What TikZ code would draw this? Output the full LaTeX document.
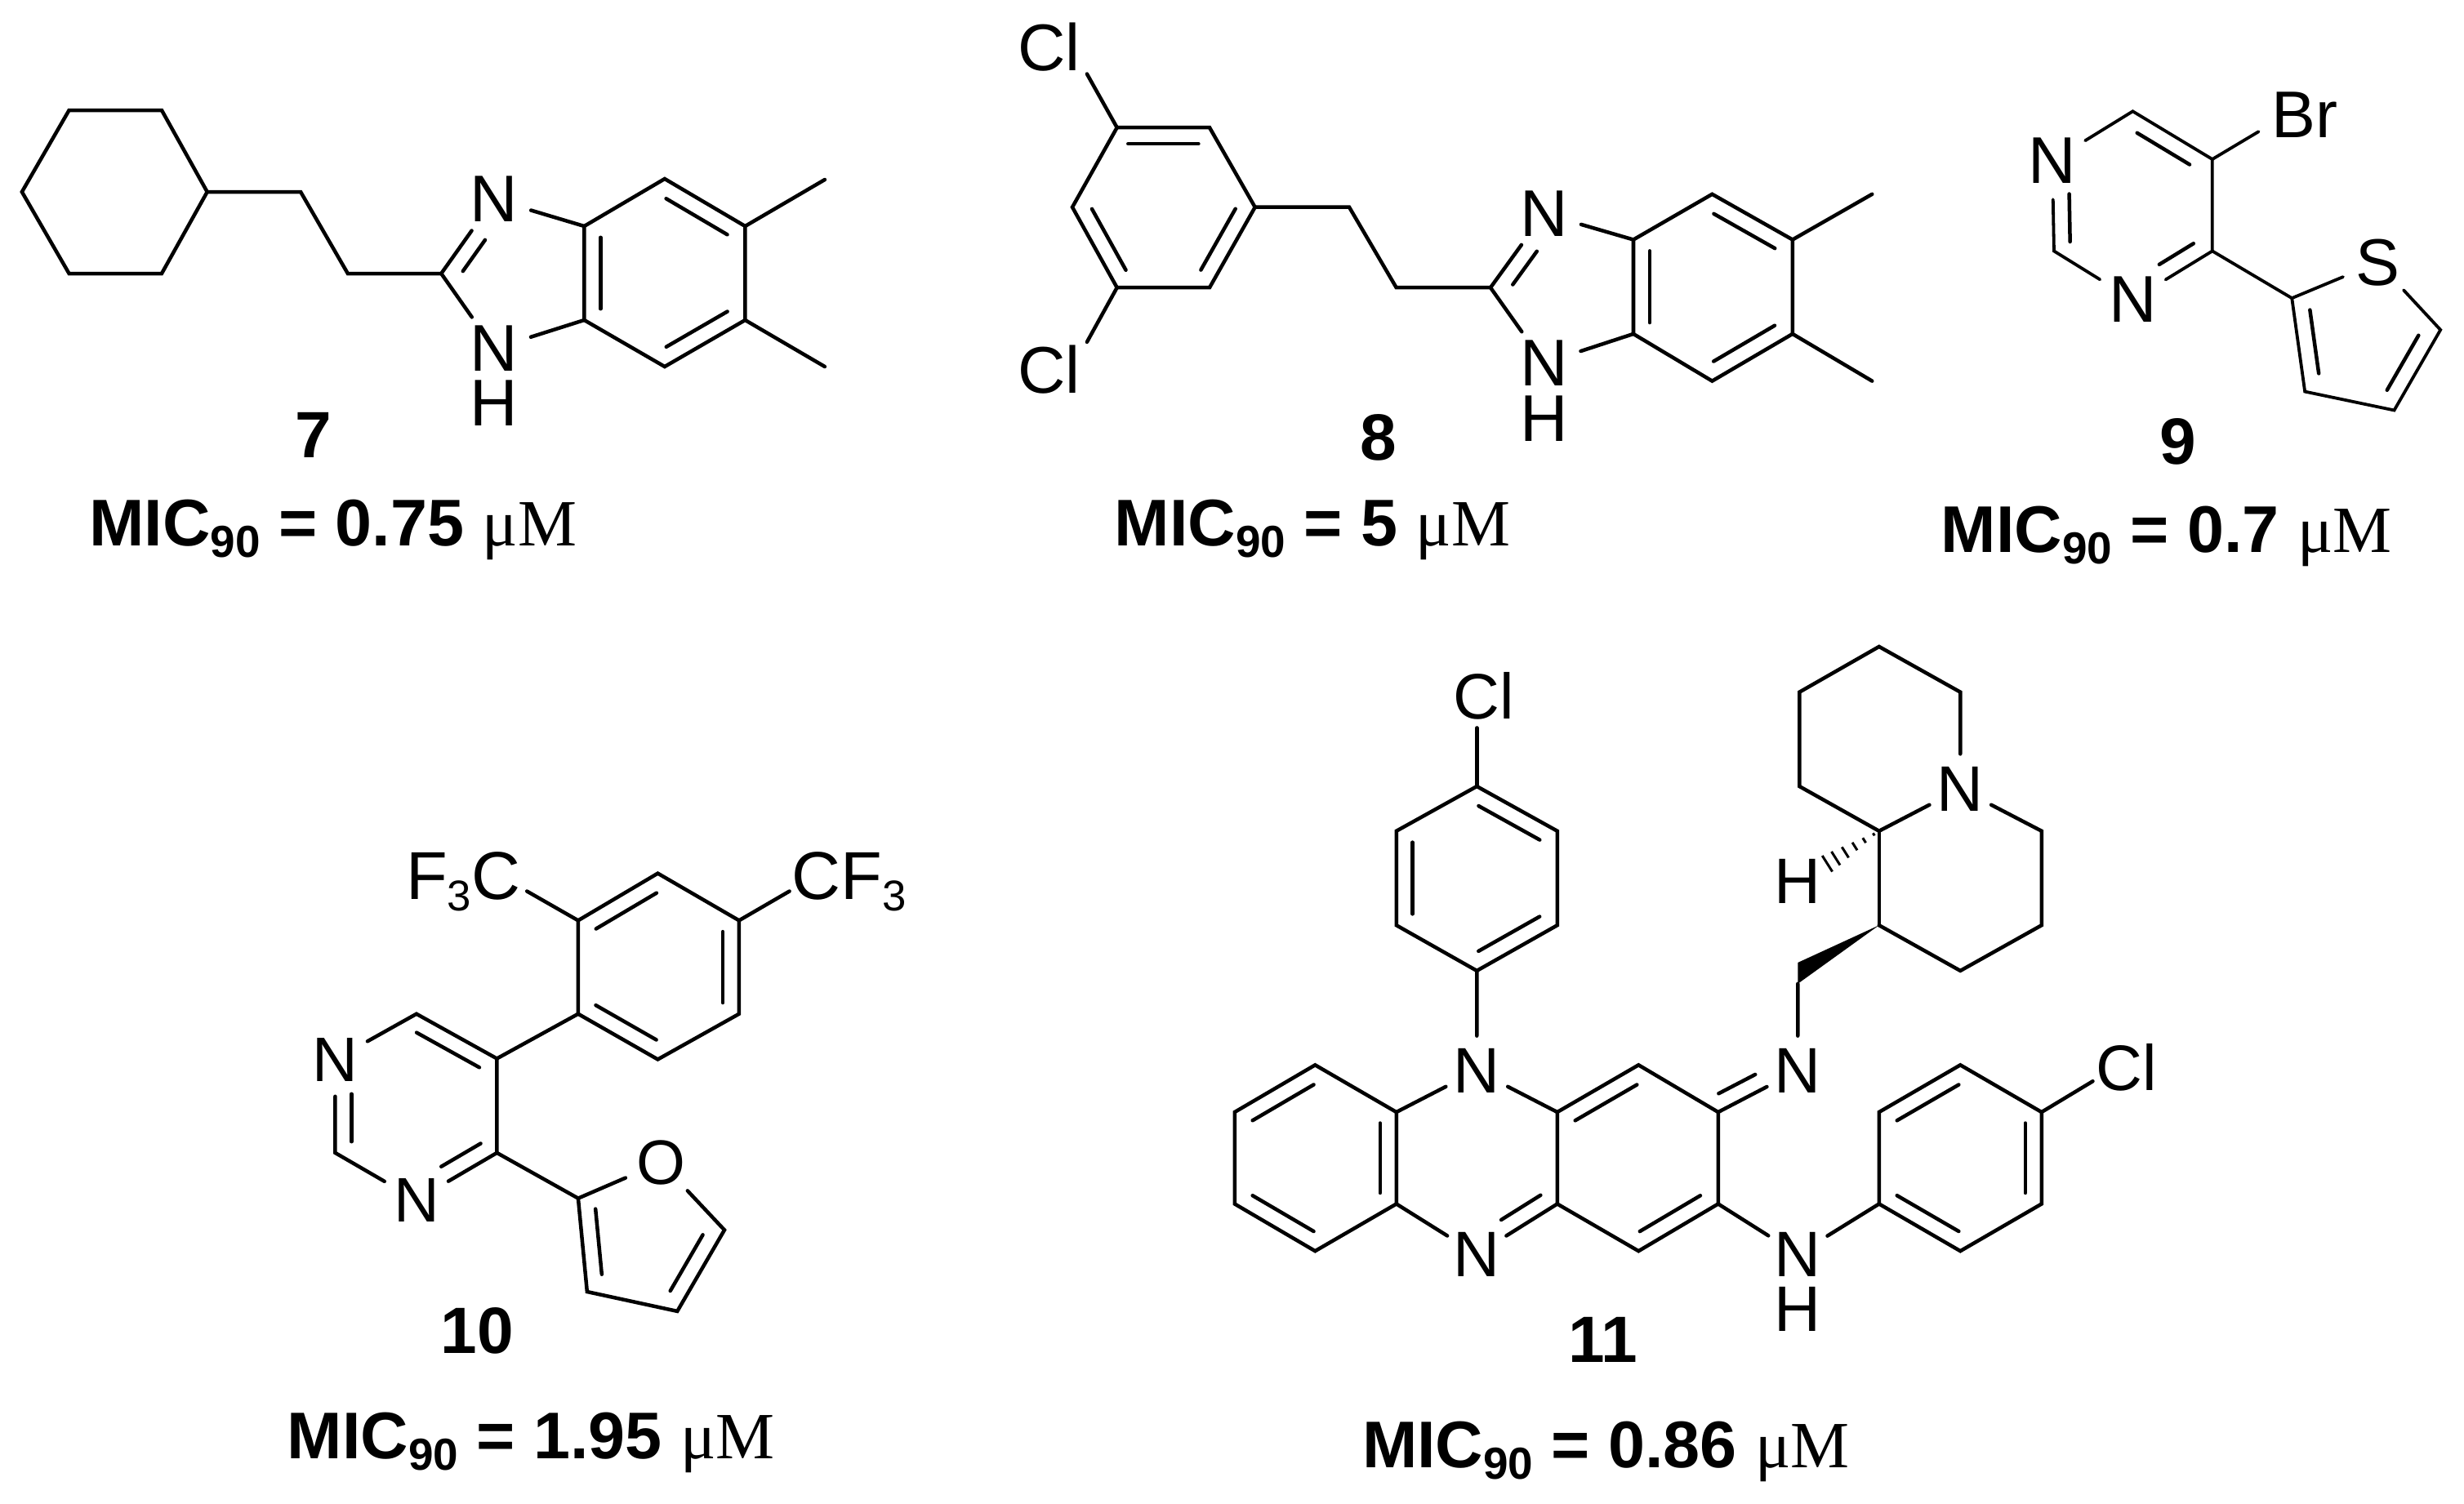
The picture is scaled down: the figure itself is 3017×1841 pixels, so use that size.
\documentclass[tikz,border=0pt]{standalone}
\usepackage{fontspec}
\setmainfont{Liberation Sans}
\newfontfamily\micf{Liberation Serif}
\usetikzlibrary{calc}
\tikzset{
  bond/.style={line width=0.045cm,line join=miter,line cap=round,black},
  thinbond/.style={line width=0.038cm,line join=miter,line cap=round,black},
  atom/.style={circle,inner sep=0pt,outer sep=2pt},
  atomL/.style={atom,font=\fontsize{23pt}{24pt}\selectfont},
  atomM/.style={atom,font=\fontsize{21.9pt}{23pt}\selectfont},
  atomS/.style={atom,outer sep=1pt,font=\fontsize{22.4pt}{24pt}\selectfont},
  lab/.style={inner sep=0pt,outer sep=0pt},
  num/.style={lab,font=\fontsize{22.8pt}{24pt}\selectfont\bfseries},
  mic/.style={lab,anchor=base west,font=\fontsize{23pt}{24pt}\selectfont}
}
% inner line of a double bond: from a to b, side, start and end fractions
\newcommand\inb[5]{\draw[bond] ($(#1)!#4!(#2)!0.2cm!#3:(#2)$) -- ($(#1)!#5!(#2)!0.2cm!#3:(#2)$);}
\newcommand\inr[2]{\inb{#1}{#2}{-90}{.12}{.88}}
\newcommand\mictext[1]{\textbf{MIC\lower4pt\hbox{\fontsize{15.6pt}{16pt}\selectfont\bfseries 90} = #1} {\micf μM}}
\newcommand\subthree{\lower4pt\hbox{\fontsize{15pt}{16pt}\selectfont 3}}
\begin{document}
\begin{tikzpicture}[x=0.01cm,y=-0.01cm]
\useasboundingbox[fill=white] (0,0) rectangle (3017,1841);

%%% compound 7
\begin{scope}[xscale=.995]
\coordinate (g1) at (85,135); \coordinate (g2) at (199,135); \coordinate (g3) at (255,235);
\coordinate (g4) at (199,335); \coordinate (g5) at (85,335); \coordinate (g6) at (27,235);
\coordinate (ga) at (370,235); \coordinate (gb) at (428,335); \coordinate (gc) at (543,335);
\node[atomL] (gn3) at (608,244) {N};
\node[atomL] (gn1) at (608,427) {N};
\node[atomL] (gh1) at (608,494) {H};
\coordinate (g3a) at (719,277); \coordinate (g4a) at (818,219); \coordinate (g5a) at (917,277);
\coordinate (g6a) at (917,392); \coordinate (g7a) at (818,449); \coordinate (g8a) at (719,392);
\coordinate (gm1) at (1015,220); \coordinate (gm2) at (1015,449);
\draw[bond] (g1)--(g2)--(g3)--(g4)--(g5)--(g6)--cycle;
\draw[bond] (g3)--(ga)--(gb)--(gc);
\draw[bond] (gc)--(gn3); \draw[bond] (gc)--(gn1);
\draw[bond] (gn3)--(g3a); \draw[bond] (gn1)--(g8a);
\draw[bond] (g3a)--(g4a)--(g5a)--(g6a)--(g7a)--(g8a)--cycle;
\draw[bond] (g5a)--(gm1); \draw[bond] (g6a)--(gm2);
\inb{gc}{gn3}{-90}{.16}{.58}
\inr{g8a}{g3a} \inr{g4a}{g5a} \inr{g6a}{g7a}
\node[num] (n7) at (386,533) {7};
\node[mic] (m7) at (110,668) {\mictext{0.75}};
\end{scope}

%%% compounds 8 and 9
\begin{scope}[xshift=0.0667cm,xscale=.9942,yscale=.995]
%%% compound 8
\node[atomL] (hcl1) at (1285,58) {Cl};
\node[atomL] (hcl2) at (1285,455) {Cl};
\coordinate (hb1) at (1332,91); \coordinate (hb2) at (1332,421);
\coordinate (h1) at (1369,157); \coordinate (h2) at (1483,157); \coordinate (h3) at (1539,255);
\coordinate (h4) at (1483,354); \coordinate (h5) at (1369,354); \coordinate (h6) at (1314,255);
\coordinate (ha) at (1655,255); \coordinate (hb) at (1713,354); \coordinate (hc) at (1829,354);
\node[atomL] (hn3) at (1895,263) {N};
\node[atomL] (hn1) at (1895,447) {N};
\node[atomL] (hh1) at (1895,515) {H};
\coordinate (h3a) at (2005,295); \coordinate (h4a) at (2102,239); \coordinate (h5a) at (2201,295);
\coordinate (h6a) at (2201,411); \coordinate (h7a) at (2102,469); \coordinate (h8a) at (2005,411);
\coordinate (hm1) at (2299,239); \coordinate (hm2) at (2299,469);
\draw[bond] (h1)--(h2)--(h3)--(h4)--(h5)--(h6)--cycle;
\draw[bond] (h1)--(hb1); \draw[bond] (h5)--(hb2);
\draw[bond] (h3)--(ha)--(hb)--(hc);
\draw[bond] (hc)--(hn3); \draw[bond] (hc)--(hn1);
\draw[bond] (hn3)--(h3a); \draw[bond] (hn1)--(h8a);
\draw[bond] (h3a)--(h4a)--(h5a)--(h6a)--(h7a)--(h8a)--cycle;
\draw[bond] (h5a)--(hm1); \draw[bond] (h6a)--(hm2);
\inr{h1}{h2} \inr{h3}{h4} \inr{h5}{h6}
\inb{hc}{hn3}{-90}{.17}{.62}
\inr{h8a}{h3a} \inr{h4a}{h5a} \inr{h6a}{h7a}
\node[num] (n8) at (1691,539) {8};
\node[mic] (m8) at (1366,672) {\mictext{5}};

%%% compound 9
\coordinate (i6) at (2620,137); \coordinate (i5) at (2718,196); \coordinate (i4) at (2718,309);
\coordinate (i2) at (2523,309);
\node[atomL] (in3) at (2620,369) {N};
\node[atomL] (in1) at (2521,198) {N};
\node[atomL] (ibr) at (2832,141) {Br};
\coordinate (ibe) at (2775,162);
\coordinate (t2) at (2816,367); \coordinate (t5) at (2999,406); \coordinate (t4) at (2942,505); \coordinate (t3) at (2832,482);
\node[atomL] (is) at (2922,323) {S};
\draw[thinbond] (in1)--(i6)--(i5)--(i4)--(in3)--(i2)--(in1);
\draw[thinbond] (i5)--(ibe);
\draw[thinbond] (i4)--(t2);
\draw[thinbond] (t2)--(is)--(t5)--(t4)--(t3)--(t2);
\inb{i6}{i5}{-90}{.16}{.82}
\inb{i4}{in3}{-90}{.13}{.56}
\inb{i2}{in1}{-90}{.1}{.63}
\inb{t5}{t4}{-90}{.17}{.85}
\inb{t3}{t2}{-90}{.17}{.85}
\node[num] (n9) at (2676,544) {9};
\node[mic] (m9) at (2384,680) {\mictext{0.7}};
\end{scope}

%%% compound 10
\begin{scope}[xshift=0.015cm,yshift=-0.05cm,xscale=.995,yscale=.995]
\coordinate (j1) at (710,1128); \coordinate (j2) at (808,1070); \coordinate (j3) at (908,1128);
\coordinate (j4) at (908,1243); \coordinate (j5) at (808,1299); \coordinate (j6) at (710,1243);
\node[lab,anchor=base west,font=\fontsize{23.6pt}{25pt}\selectfont] (jl) at (498,1102) {F\subthree C};
\node[lab,anchor=base west,font=\fontsize{23.6pt}{25pt}\selectfont] (jr) at (973,1102) {CF\subthree};
\coordinate (jle) at (647,1092); \coordinate (jre) at (970,1092);
\coordinate (p6) at (511,1243); \coordinate (p5) at (610,1298); \coordinate (p4) at (610,1414); \coordinate (p2) at (411,1414);
\node[atomM] (pn3) at (511,1472) {N};
\node[atomM] (pn1) at (411,1299) {N};
\coordinate (f2) at (710,1470); \coordinate (f5) at (890,1509); \coordinate (f4) at (832,1609); \coordinate (f3) at (721,1585);
\node[atomM] (fo) at (812,1426) {O};
\draw[bond] (j1)--(j2)--(j3)--(j4)--(j5)--(j6)--cycle;
\draw[bond] (j1)--(jle); \draw[bond] (j3)--(jre);
\draw[bond] (j6)--(p5);
\draw[bond] (pn1)--(p6)--(p5)--(p4)--(pn3)--(p2)--(pn1);
\draw[bond] (p4)--(f2);
\draw[bond] (f2)--(fo)--(f5)--(f4)--(f3)--(f2);
\inr{j1}{j2} \inr{j3}{j4} \inr{j5}{j6}
\inb{p6}{p5}{-90}{.1}{.88}
\inb{p4}{pn3}{-90}{.1}{.59}
\inb{p2}{pn1}{-90}{.12}{.63}
\inb{f5}{f4}{-90}{.16}{.85}
\inb{f3}{f2}{-90}{.17}{.87}
\node[num] (n10) at (586,1633) {10};
\node[mic] (m10) at (352,1790) {\mictext{1.95}};
\end{scope}

%%% compound 11
\begin{scope}[xshift=0.074cm,yshift=-0.039cm,xscale=.995,yscale=.995]
\node[atomS] (kcl1) at (1818,853) {Cl};
\coordinate (kce1) at (1810,892);
\coordinate (r1) at (1810,964); \coordinate (r2) at (1909,1019); \coordinate (r3) at (1909,1135);
\coordinate (r4) at (1810,1191); \coordinate (r5) at (1711,1135); \coordinate (r6) at (1711,1019);
\node[atomS] (ktn) at (1810,1314) {N};
\node[atomS] (kbn) at (1810,1540) {N};
\coordinate (a1) at (1611,1307); \coordinate (a2) at (1711,1365); \coordinate (a3) at (1711,1478);
\coordinate (a4) at (1611,1536); \coordinate (a5) at (1512,1478); \coordinate (a6) at (1512,1365);
\coordinate (m1) at (1909,1365); \coordinate (m2) at (2009,1307); \coordinate (m3) at (2107,1365);
\coordinate (m4) at (2107,1478); \coordinate (m5) at (2009,1536); \coordinate (m6) at (1909,1478);
\node[atomS] (kin) at (2205,1314) {N};
\node[atomS] (knh) at (2205,1540) {N};
\node[atomS] (khh) at (2205,1608) {H};
\coordinate (q1) at (2405,1307); \coordinate (q2) at (2505,1365); \coordinate (q3) at (2505,1478);
\coordinate (q4) at (2405,1536); \coordinate (q5) at (2305,1478); \coordinate (q6) at (2305,1365);
\node[atomS] (kcl2) at (2609,1310) {Cl};
\coordinate (kce2) at (2568,1327);
\coordinate (w1) at (2205,1207); \coordinate (w2) at (2205,1181); \coordinate (w3) at (2305,1135);
\coordinate (s1) at (2305,1019); \coordinate (s2) at (2207,964); \coordinate (s3) at (2207,848);
\coordinate (s4) at (2305,792); \coordinate (s5) at (2405,848);
\node[atomS] (sn) at (2405,967) {N};
\coordinate (s6) at (2505,1019); \coordinate (s7) at (2505,1135); \coordinate (s8) at (2405,1191);
\node[atomS] (kh) at (2205,1081) {H};
\coordinate (she) at (2240,1060);
\draw[bond] (kce1)--(r1);
\draw[bond] (r1)--(r2)--(r3)--(r4)--(r5)--(r6)--cycle;
\draw[bond] (r4)--(ktn);
\draw[bond] (a1)--(a2)--(a3)--(a4)--(a5)--(a6)--cycle;
\draw[bond] (a2)--(ktn)--(m1);
\draw[bond] (a3)--(kbn)--(m6);
\draw[bond] (m1)--(m2)--(m3)--(m4)--(m5)--(m6)--cycle;
\draw[bond] (m3)--(kin);
\draw[bond] (m4)--(knh)--(q5);
\draw[bond] (q1)--(q2)--(q3)--(q4)--(q5)--(q6)--cycle;
\draw[bond] (q2)--(kce2);
\draw[bond] (kin)--(w1);
\fill[black] (w1)--(w2)--(w3)--cycle;
\draw[bond] (w3)--(s1);
\draw[bond] (s1)--(s2)--(s3)--(s4)--(s5)--(sn)--(s1);
\draw[bond] (sn)--(s6)--(s7)--(s8)--(w3);
\foreach \t/\w in {.1/.5,.28/1,.46/1.6,.64/2.2,.82/2.8,.98/3.3}
  \draw[line width=0.03cm,black] ($(s1)!\t!(she)!\w pt!90:(she)$) -- ($(s1)!\t!(she)!\w pt!-90:(she)$);
\inr{r1}{r2} \inr{r3}{r4} \inr{r5}{r6}
\inr{a2}{a3} \inr{a4}{a5} \inr{a6}{a1}
\inr{m1}{m2} \inr{m4}{m5}
\inb{m6}{kbn}{-90}{.1}{.59}
\inb{m3}{kin}{90}{.1}{.56}
\inr{q2}{q3} \inr{q4}{q5} \inr{q6}{q1}
\node[num] (n11) at (1965,1645) {11};
\node[mic] (m11) at (1669,1803) {\mictext{0.86}};
\end{scope}
\end{tikzpicture}
\end{document}
